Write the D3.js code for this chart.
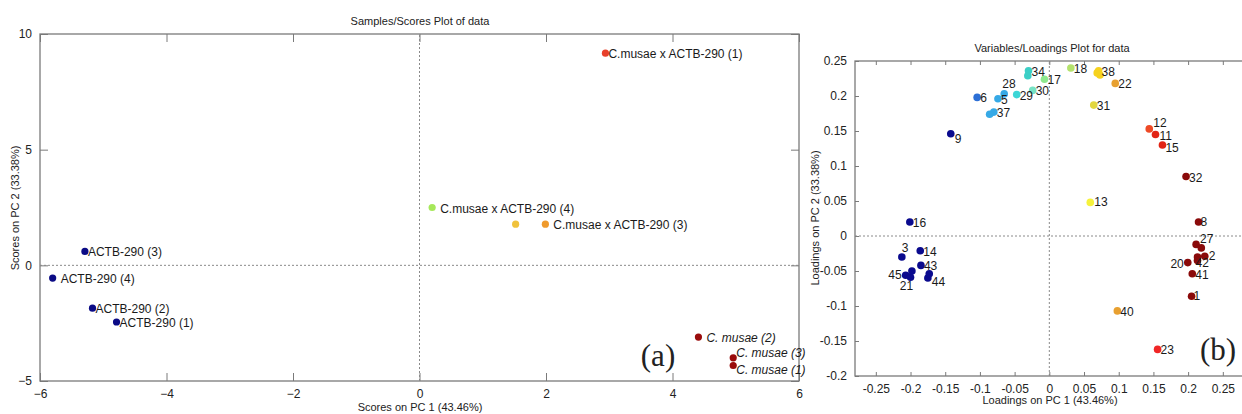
<!DOCTYPE html>
<html>
<head>
<meta charset="utf-8">
<script src="https://cdn.jsdelivr.net/npm/d3@7"></script>
<style>
  body { margin: 0; background: #fff; }
  svg { display: block; font-family: "Liberation Sans", Arial, sans-serif; }
  .axis path, .axis line { stroke: #7a7a7a; }
  .axis text { fill: #222; font-size: 12px; }
</style>
</head>
<body>
<div id="chart"></div>
<script>
// ---- scores plot (a) ----
const scoreNames = ["ACTB-290 (3)", "ACTB-290 (4)", "ACTB-290 (2)", "ACTB-290 (1)",
  "C.musae x ACTB-290 (1)", "C.musae x ACTB-290 (4)", "", "C.musae x ACTB-290 (3)",
  "C. musae (2)", "C. musae (3)", "C. musae (1)"];
const scoreX = [-5.29, -5.8, -5.17, -4.79, 2.94, 0.2, 1.52, 1.99, 4.41, 4.96, 4.96];
const scoreY = [0.6, -0.55, -1.85, -2.45, 9.17, 2.5, 1.78, 1.78, -3.1, -4.0, -4.33];
const scoreGroup = ["actb", "actb", "actb", "actb", "cross1", "cross4", "cross2", "cross3", "musae", "musae", "musae"];
const scoreXTicks = [-6, -4, -2, 0, 2, 4, 6];
const scoreYTicks = [-5, 0, 5, 10];

// ---- loadings plot (b) ----
const loadNames = ["9", "6", "5", "28", "37", "", "29", "30", "34", "", "17", "18", "38", "", "",
  "22", "31", "12", "11", "15", "32", "13", "16", "8", "3", "14", "43", "45", "21", "",
  "44", "", "27", "", "2", "42", "", "20", "41", "1", "40", "23"];
const loadX = [-0.142, -0.104, -0.074, -0.065, -0.080, -0.086, -0.047, -0.024, -0.030, -0.031, -0.007, 0.031, 0.071, 0.073, 0.069,
  0.095, 0.064, 0.144, 0.153, 0.163, 0.197, 0.059, -0.201, 0.215, -0.2125, -0.186, -0.185, -0.207, -0.200, -0.198,
  -0.175, -0.173, 0.2115, 0.219, 0.224, 0.2135, 0.2135, 0.1995, 0.206, 0.205, 0.098, 0.156];
const loadY = [0.146, 0.198, 0.196, 0.203, 0.177, 0.174, 0.202, 0.208, 0.236, 0.229, 0.224, 0.240, 0.236, 0.230, 0.233,
  0.218, 0.187, 0.153, 0.145, 0.130, 0.085, 0.048, 0.020, 0.020, -0.030, -0.021, -0.042, -0.056, -0.059, -0.050,
  -0.060, -0.054, -0.012, -0.017, -0.029, -0.030, -0.035, -0.038, -0.054, -0.086, -0.107, -0.162];
const loadGroup = ["navy", "blue", "sky", "sky", "sky", "sky", "cyan", "aqua", "teal", "teal", "mint", "lime", "yellow", "yellow", "yellow",
  "orange", "gold", "red1", "red2", "red2", "maroon", "lemon", "navy", "maroon", "navy", "navy", "navy", "navy", "navy", "navy",
  "navy", "navy", "maroon", "maroon", "maroon", "maroon", "maroon", "maroon", "maroon", "maroon", "orange", "red3"];
const loadXTicks = [-0.25, -0.2, -0.15, -0.1, -0.05, 0, 0.05, 0.1, 0.15, 0.2, 0.25];
const loadYTicks = [-0.2, -0.15, -0.1, -0.05, 0, 0.05, 0.1, 0.15, 0.2, 0.25];

const width = 1242, height = 414;

const svg = d3.select("#chart").append("svg")
  .attr("width", width)
  .attr("height", height);

svg.append("rect").attr("width", width).attr("height", height).attr("fill", "#fff");

const scoreColor = d3.scaleOrdinal()
  .domain(["actb", "cross1", "cross4", "cross2", "cross3", "musae"])
  .range(["#0b0b85", "#e8402a", "#a6e85a", "#f0c23c", "#ef9a2c", "#9a0c0c"]);

const loadColor = d3.scaleOrdinal()
  .domain(["navy", "blue", "sky", "cyan", "aqua", "teal", "mint", "lime", "yellow", "orange", "gold", "lemon", "red1", "red2", "red3", "maroon"])
  .range(["#0a0a8e", "#2c6fd6", "#36a9e6", "#3cd6d6", "#78e2c4", "#3ccfc6", "#8ee88e", "#b4e26c", "#f6d21e", "#e8a030", "#e2d640", "#f6f23c", "#ee4a26", "#e22414", "#f02626", "#8a0a0a"]);

// draws a matlab-like framed axes box
function drawFrame(x, y, xTicks, yTicks, tickLen, fmt) {
  const [x0, x1] = x.range();
  const [y0, y1] = y.range();
  const g = svg.append("g");

  g.append("g").attr("class", "axis")
    .attr("transform", `translate(0,${y0})`)
    .call(d3.axisBottom(x).tickValues(xTicks).tickSizeInner(-tickLen).tickSizeOuter(0).tickPadding(8).tickFormat(fmt))
    .call(s => s.select(".domain").remove());
  g.append("g").attr("class", "axis")
    .attr("transform", `translate(0,${y1})`)
    .call(d3.axisTop(x).tickValues(xTicks).tickSizeInner(-tickLen).tickSizeOuter(0).tickFormat(""))
    .call(s => s.select(".domain").remove());
  g.append("g").attr("class", "axis")
    .attr("transform", `translate(${x0},0)`)
    .call(d3.axisLeft(y).tickValues(yTicks).tickSizeInner(-tickLen).tickSizeOuter(0).tickPadding(8).tickFormat(fmt))
    .call(s => s.select(".domain").remove());
  g.append("g").attr("class", "axis")
    .attr("transform", `translate(${x1},0)`)
    .call(d3.axisRight(y).tickValues(yTicks).tickSizeInner(-tickLen).tickSizeOuter(0).tickFormat(""))
    .call(s => s.select(".domain").remove());

  g.append("rect")
    .attr("x", x0).attr("y", y1)
    .attr("width", x1 - x0).attr("height", y0 - y1)
    .attr("fill", "none").attr("stroke", "#7a7a7a").attr("stroke-width", 1.3);

  // dashed zero lines
  g.append("line")
    .attr("x1", x0).attr("x2", x1).attr("y1", y(0)).attr("y2", y(0))
    .attr("stroke", "#8a8a8a").attr("stroke-dasharray", "2,2");
  g.append("line")
    .attr("x1", x(0)).attr("x2", x(0)).attr("y1", y0).attr("y2", y1)
    .attr("stroke", "#8a8a8a").attr("stroke-dasharray", "2,2");
  return g;
}

// ---------- (a) ----------
const xa = d3.scaleLinear().domain([-6, 6]).range([40, 799]);
const ya = d3.scaleLinear().domain([-5, 10]).range([381, 34]);

drawFrame(xa, ya, scoreXTicks, scoreYTicks, 8, d3.format("d"));

svg.append("text").attr("x", 420).attr("y", 25).attr("text-anchor", "middle")
  .attr("font-size", 11).attr("fill", "#222").text("Samples/Scores Plot of data");
svg.append("text").attr("x", 420).attr("y", 411).attr("text-anchor", "middle")
  .attr("font-size", 11).attr("fill", "#222").text("Scores on PC 1 (43.46%)");
svg.append("text").attr("transform", `translate(19,${208}) rotate(-90)`).attr("text-anchor", "middle")
  .attr("font-size", 11).attr("fill", "#222").text("Scores on PC 2 (33.38%)");

const scores = scoreNames.map((n, i) => ({ name: n, x: scoreX[i], y: scoreY[i], group: scoreGroup[i] }));

svg.append("g").selectAll("circle")
  .data(scores)
  .join("circle")
  .attr("cx", d => xa(d.x))
  .attr("cy", d => ya(d.y))
  .attr("r", 3.6)
  .attr("fill", d => scoreColor(d.group));

svg.append("g").selectAll("text")
  .data(scores.filter(d => d.name))
  .join("text")
  .attr("x", d => xa(d.x) + (d.name === "ACTB-290 (4)" || d.name === "C.musae x ACTB-290 (4)" || d.name === "C.musae x ACTB-290 (3)" || d.name === "C. musae (2)" ? 8 : 3))
  .attr("y", d => ya(d.y) + (d.name === "C. musae (3)" ? -1 : d.name === "C. musae (1)" ? 8 : 5))
  .attr("font-size", 12)
  .attr("font-style", d => d.group === "musae" ? "italic" : "normal")
  .attr("fill", "#1a1a1a")
  .text(d => d.name);

svg.append("text").attr("x", 658).attr("y", 366).attr("text-anchor", "middle")
  .attr("font-family", "Liberation Serif, Times New Roman, serif")
  .attr("font-size", 31).attr("fill", "#222").text("(a)");

// ---------- (b) ----------
const xb = d3.scaleLinear().domain([-0.28, 0.3]).range([855, 855 + 0.58 * 694]);
const yb = d3.scaleLinear().domain([-0.2, 0.25]).range([376, 61]);

const fmtB = d => d === 0 ? "0" : String(+d.toFixed(2));
drawFrame(xb, yb, loadXTicks, loadYTicks, 4, fmtB);

svg.append("text").attr("x", 1052).attr("y", 52).attr("text-anchor", "middle")
  .attr("font-size", 11).attr("fill", "#222").text("Variables/Loadings Plot for data");
svg.append("text").attr("x", 1050).attr("y", 404).attr("text-anchor", "middle")
  .attr("font-size", 11).attr("fill", "#222").text("Loadings on PC 1 (43.46%)");
svg.append("text").attr("transform", `translate(819,${218}) rotate(-90)`).attr("text-anchor", "middle")
  .attr("font-size", 11).attr("fill", "#222").text("Loadings on PC 2 (33.38%)");

const loads = loadNames.map((n, i) => ({ name: n, x: loadX[i], y: loadY[i], group: loadGroup[i] }));

svg.append("g").selectAll("circle")
  .data(loads)
  .join("circle")
  .attr("cx", d => xb(d.x))
  .attr("cy", d => yb(d.y))
  .attr("r", 3.8)
  .attr("fill", d => loadColor(d.group));

// label offsets (dx, dy, anchor) for the loadings
const labelPos = {
  "28": [-2, -6, "start"], "3": [0, -5, "start"], "45": [-4, 4, "end"], "21": [-4, 13, "middle"],
  "20": [-4, 5, "end"], "42": [-2, 10, "start"], "9": [4, 9, "start"], "44": [4, 8, "start"],
  "13": [4, 4, "start"], "1": [2, 4, "start"], "8": [2, 4, "start"], "27": [4, -1, "start"],
  "12": [4, -2, "start"], "11": [4, 5, "start"], "15": [3, 7, "start"], "2": [4, 4, "start"]
};

svg.append("g").selectAll("text")
  .data(loads.filter(d => d.name))
  .join("text")
  .attr("x", d => xb(d.x) + (labelPos[d.name] ? labelPos[d.name][0] : 3))
  .attr("y", d => yb(d.y) + (labelPos[d.name] ? labelPos[d.name][1] : 5))
  .attr("text-anchor", d => labelPos[d.name] ? labelPos[d.name][2] : "start")
  .attr("font-size", 12)
  .attr("fill", "#1a1a1a")
  .text(d => d.name);

svg.append("text").attr("x", 1218).attr("y", 360).attr("text-anchor", "middle")
  .attr("font-family", "Liberation Serif, Times New Roman, serif")
  .attr("font-size", 31).attr("fill", "#222").text("(b)");
</script>
</body>
</html>
